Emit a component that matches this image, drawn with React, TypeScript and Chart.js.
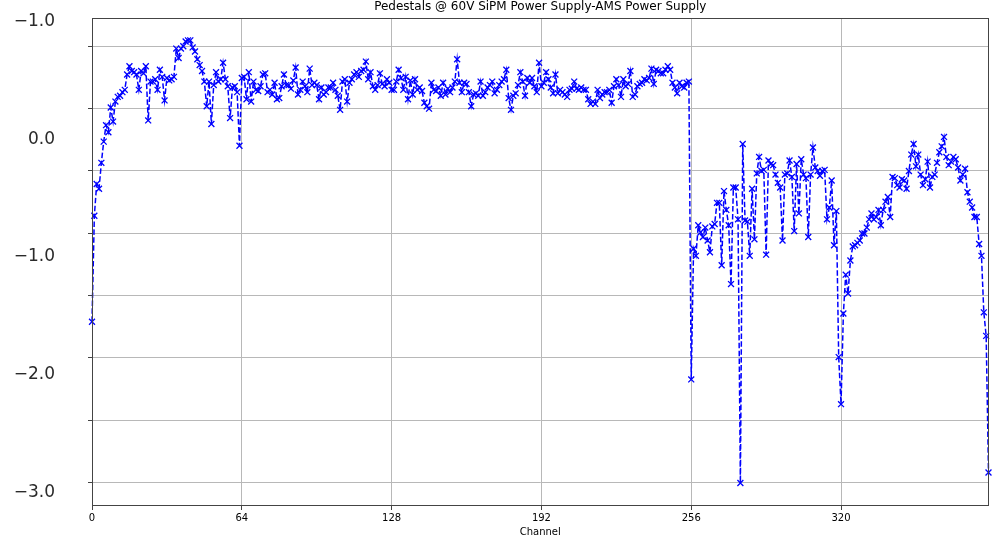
import React, { useEffect, useRef } from "react";
import { Chart, registerables } from "chart.js";

Chart.register(...registerables);

const chartTitle = "Pedestals @ 60V SiPM Power Supply-AMS Power Supply";
const xAxisTitle = "Channel";
const xTickValues = [0, 64, 128, 192, 256, 320];
const xMin = 0;
const xMax = 383;
const yMin = -3.115;
const yMax = 1.03;
const yLabelValues = [-3, -2, -1, 0, 1];
const yLabelTexts = ["−3.0", "−2.0", "−1.0", "0.0", "−1.0"];
const yGridValues = [-2.916, -2.386, -1.857, -1.327, -0.798, -0.268, 0.261, 0.791];

const pedestalsCh000to063 = [
  -1.55, -0.65, -0.38, -0.42, -0.2, -0.02, 0.12, 0.06, 0.27, 0.15,
  0.32, 0.36, 0.37, 0.4, 0.42, 0.55, 0.62, 0.58, 0.57, 0.55,
  0.42, 0.58, 0.56, 0.62, 0.16, 0.49, 0.49, 0.51, 0.42, 0.59,
  0.53, 0.33, 0.52, 0.5, 0.51, 0.53, 0.77, 0.69, 0.77, 0.79,
  0.83, 0.84, 0.84, 0.78, 0.745, 0.68, 0.63, 0.58, 0.49, 0.28,
  0.49, 0.13, 0.46, 0.57, 0.49, 0.51, 0.65, 0.51, 0.45, 0.18,
  0.44, 0.45, 0.4, -0.055,
];
const pedestalsCh064to127 = [
  0.52, 0.53, 0.34, 0.57, 0.32, 0.49, 0.42, 0.41, 0.45, 0.55,
  0.56, 0.4, 0.42, 0.38, 0.48, 0.34, 0.35, 0.45, 0.55, 0.46,
  0.46, 0.43, 0.5, 0.61, 0.38, 0.42, 0.49, 0.45, 0.4, 0.6,
  0.46, 0.48, 0.46, 0.34, 0.44, 0.38, 0.4, 0.44, 0.44, 0.48,
  0.42, 0.37, 0.25, 0.49, 0.51, 0.32, 0.48, 0.51, 0.55, 0.57,
  0.53, 0.58, 0.59, 0.66, 0.51, 0.57, 0.45, 0.42, 0.46, 0.56,
  0.47, 0.45, 0.51, 0.48,
];
const pedestalsCh128to191 = [
  0.42, 0.42, 0.49, 0.59, 0.52, 0.42, 0.53, 0.34, 0.5, 0.38,
  0.51, 0.42, 0.44, 0.41, 0.31, 0.28, 0.26, 0.48, 0.42, 0.41,
  0.44, 0.37, 0.48, 0.38, 0.43, 0.4, 0.44, 0.49, 0.68, 0.48,
  0.4, 0.48, 0.47, 0.4, 0.28, 0.38, 0.39, 0.37, 0.49, 0.37,
  0.4, 0.44, 0.46, 0.49, 0.39, 0.42, 0.46, 0.49, 0.51, 0.59,
  0.35, 0.25, 0.37, 0.39, 0.46, 0.57, 0.49, 0.37, 0.52, 0.48,
  0.52, 0.45, 0.4, 0.65,
];
const pedestalsCh192to255 = [
  0.45, 0.48, 0.57, 0.51, 0.44, 0.39, 0.55, 0.39, 0.42, 0.4,
  0.38, 0.36, 0.42, 0.43, 0.49, 0.43, 0.42, 0.44, 0.42, 0.42,
  0.34, 0.3, 0.32, 0.3, 0.42, 0.35, 0.38, 0.4, 0.4, 0.42,
  0.31, 0.45, 0.51, 0.46, 0.36, 0.51, 0.45, 0.47, 0.58, 0.36,
  0.38, 0.45, 0.47, 0.48, 0.51, 0.5, 0.52, 0.6, 0.47, 0.59,
  0.58, 0.56, 0.56, 0.59, 0.62, 0.59, 0.48, 0.44, 0.39, 0.48,
  0.45, 0.44, 0.48, 0.49,
];
const pedestalsCh256to319 = [
  -2.04, -0.93, -0.99, -0.73, -0.79, -0.83, -0.75, -0.86, -0.96, -0.74,
  -0.72, -0.54, -0.54, -1.07, -0.44, -0.6, -0.73, -1.23, -0.41, -0.41,
  -0.68, -2.92, -0.04, -0.69, -0.7, -0.99, -0.42, -0.85, -0.29, -0.15,
  -0.27, -0.26, -0.98, -0.18, -0.21, -0.22, -0.3, -0.37, -0.41, -0.86,
  -0.3, -0.29, -0.18, -0.32, -0.78, -0.21, -0.63, -0.17, -0.3, -0.33,
  -0.83, -0.3, -0.07, -0.24, -0.27, -0.31, -0.27, -0.26, -0.68, -0.58,
  -0.35, -0.9, -0.61, -1.85,
];
const pedestalsCh320to383 = [
  -2.25, -1.48, -1.15, -1.31, -1.03, -0.91, -0.9, -0.88, -0.86, -0.8,
  -0.8, -0.75, -0.68, -0.63, -0.68, -0.66, -0.6, -0.73, -0.6, -0.53,
  -0.49, -0.66, -0.32, -0.33, -0.39, -0.41, -0.34, -0.35, -0.42, -0.27,
  -0.13, -0.04, -0.23, -0.13, -0.3, -0.39, -0.34, -0.19, -0.41, -0.32,
  -0.3, -0.2, -0.11, -0.06, 0.02, -0.15, -0.22, -0.19, -0.15, -0.17,
  -0.24, -0.35, -0.3, -0.25, -0.45, -0.53, -0.58, -0.66, -0.66, -0.89,
  -0.99, -1.47, -1.67, -2.83,
];

const pedestals = [
  ...pedestalsCh000to063,
  ...pedestalsCh064to127,
  ...pedestalsCh128to191,
  ...pedestalsCh192to255,
  ...pedestalsCh256to319,
  ...pedestalsCh320to383,
];

const FONT = "'DejaVu Sans', sans-serif";
const SPINE = "#444444";
const GRID = "#b8b8b8";

const framePlugin = {
  id: "frame",
  afterDraw(chart: any) {
    const { ctx, chartArea: a } = chart;
    ctx.save();
    ctx.strokeStyle = SPINE;
    ctx.lineWidth = 1;
    const l = Math.round(a.left) + 0.5;
    const t = Math.round(a.top) + 0.5;
    const r = Math.round(a.right) - 0.5;
    const b = Math.round(a.bottom) - 0.5;
    ctx.strokeRect(l, t, r - l, b - t);
    ctx.restore();
  },
};

export default function App() {
  const canvasRef = useRef<HTMLCanvasElement | null>(null);

  useEffect(() => {
    if (!canvasRef.current) return;
    const chart = new Chart(canvasRef.current, {
      type: "line",
      data: {
        datasets: [
          {
            data: pedestals.map((v, i) => ({ x: i, y: v })),
            borderColor: "#0000ff",
            borderWidth: 1.5,
            borderDash: [5.5, 2.4],
            pointStyle: "crossRot",
            pointRadius: 4.2,
            pointBorderColor: "#0000ff",
            pointBackgroundColor: "#0000ff",
            pointBorderWidth: 1.3,
            tension: 0,
            fill: false,
            clip: 5,
          },
        ],
      },
      options: {
        animation: false,
        responsive: false,
        devicePixelRatio: 1,
        layout: { padding: { left: 0, right: 5, top: 0, bottom: 0 } },
        plugins: {
          legend: { display: false },
          tooltip: { enabled: false },
          title: {
            display: true,
            text: chartTitle,
            fullSize: false,
            color: "#000000",
            font: { family: FONT, size: 12, weight: "normal" },
            padding: { top: 0, bottom: 3.6 },
          },
        },
        scales: {
          x: {
            type: "linear",
            position: "bottom",
            min: xMin,
            max: xMax,
            afterBuildTicks: (axis: any) => {
              axis.ticks = xTickValues.map((v) => ({ value: v }));
            },
            ticks: {
              autoSkip: false,
              maxRotation: 0,
              color: "#000000",
              padding: 2,
              font: { family: FONT, size: 10 },
              callback: (v: any) => String(v),
            },
            grid: { color: GRID, lineWidth: 1, tickLength: 4, tickColor: SPINE, drawTicks: true },
            border: { display: false },
            title: {
              display: true,
              text: xAxisTitle,
              color: "#000000",
              font: { family: FONT, size: 10 },
              padding: { top: 0, bottom: 0 },
            },
          },
          yGrid: {
            type: "linear",
            position: "left",
            weight: 0,
            min: yMin,
            max: yMax,
            afterBuildTicks: (axis: any) => {
              axis.ticks = yGridValues.map((v) => ({ value: v }));
            },
            afterFit: (s: any) => {
              s.width = 30;
            },
            ticks: { display: false },
            grid: { color: GRID, lineWidth: 1, tickLength: 4, tickColor: SPINE, drawTicks: true },
            border: { display: false },
          },
          y: {
            type: "linear",
            position: "left",
            weight: 1,
            min: yMin,
            max: yMax,
            afterBuildTicks: (axis: any) => {
              axis.ticks = yLabelValues.map((v) => ({ value: v }));
            },
            afterFit: (s: any) => {
              s.width = 62;
            },
            ticks: {
              autoSkip: false,
              padding: 7,
              color: "#2a2a2a",
              font: { family: FONT, size: 17 },
              callback: (_v: any, i: number) => yLabelTexts[i],
            },
            grid: { display: false, drawTicks: false },
            border: { display: false },
          },
        },
      } as any,
      plugins: [framePlugin],
    });
    return () => chart.destroy();
  }, []);

  return (
    <div style={{ position: "absolute", left: 0, top: 0, width: 994, height: 538, background: "#ffffff" }}>
      <canvas ref={canvasRef} width={994} height={538} />
    </div>
  );
}
